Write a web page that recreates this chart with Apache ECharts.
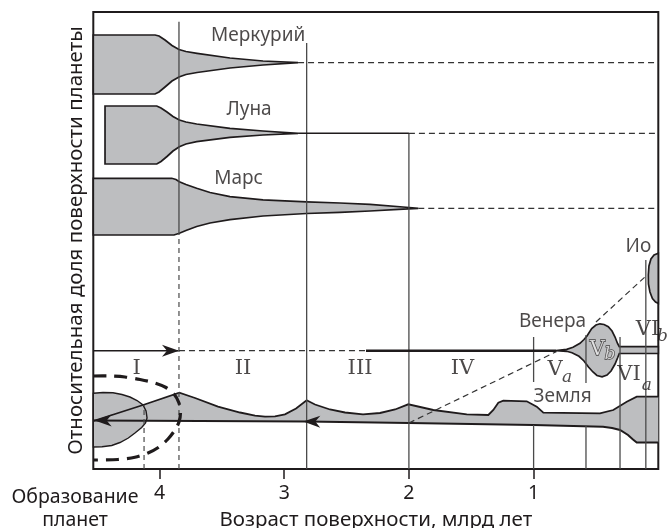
<!DOCTYPE html>
<html><head><meta charset="utf-8">
<script src="https://cdn.jsdelivr.net/npm/echarts@6/dist/echarts.min.js"></script>
<style>html,body{margin:0;padding:0;background:#fff}#c{width:667px;height:528px}</style>
</head><body><div id="c"></div>
<script>
// ---------- axis ----------
const xTickValues = [1, 2, 3, 4];
const ageMax = 4.531, ageMin = 0;
const shareMin = 0, shareMax = 45.7;

// ---------- planet surface-age distributions: [age, share] ----------
const mercuryTop = [[4.531,43.4],[4.036,43.4],[4.004,43.3],[3.956,42.9],[3.9,42.35],[3.844,41.95],[3.788,41.75],[3.699,41.57],[3.435,41.1],[3.17,40.8],[2.889,40.63]];
const mercuryBottom = [[2.889,40.63],[3.17,40.4],[3.435,40.1],[3.699,39.65],[3.788,39.45],[3.844,39.2],[3.9,38.8],[3.956,38.2],[4.004,37.7],[4.036,37.5],[4.531,37.5]];
const lunaTop = [[4.437,36.3],[4.022,36.3],[3.988,36.1],[3.94,35.7],[3.892,35.25],[3.841,34.9],[3.788,34.7],[3.702,34.5],[3.435,34.07],[3.17,33.8],[2.889,33.57]];
const lunaBottom = [[2.889,33.57],[3.17,33.4],[3.435,33.17],[3.702,32.73],[3.788,32.5],[3.841,32.23],[3.892,31.8],[3.94,31.25],[3.988,30.75],[4.022,30.5],[4.437,30.5]];
const marsTop = [[4.531,29.07],[3.902,29.07],[3.868,28.95],[3.841,28.73],[3.788,28.45],[3.702,28.07],[3.595,27.65],[3.435,27.23],[3.17,26.92],[2.82,26.72],[2.553,26.6],[2.312,26.47],[2.047,26.2],[1.925,26.07]];
const marsBottom = [[1.925,26.07],[2.045,25.98],[2.312,25.8],[2.553,25.67],[2.82,25.55],[3.17,25.3],[3.435,24.93],[3.595,24.6],[3.702,24.25],[3.788,23.85],[3.841,23.57],[3.884,23.4],[4.531,23.4]];
const ioShape = [[0,21.57],[0.034,21.4],[0.059,21.0],[0.075,20.3],[0.080,19.4],[0.079,18.5],[0.067,17.7],[0.047,17.05],[0.022,16.7],[0,16.57]];
const venusTop = [[0.82,11.83],[0.735,11.97],[0.684,12.17],[0.628,12.57],[0.596,12.95],[0.572,13.3],[0.534,14.05],[0.5,14.4],[0.468,14.52],[0.435,14.45],[0.401,14.23],[0.371,13.8],[0.347,13.2],[0.327,12.55],[0.313,12.23],[0,12.23]];
const venusBottom = [[0,11.57],[0.313,11.55],[0.327,11.1],[0.347,10.5],[0.379,9.8],[0.411,9.4],[0.451,9.22],[0.492,9.35],[0.524,9.7],[0.56,10.2],[0.596,10.8],[0.636,11.27],[0.692,11.62],[0.735,11.77],[0.82,11.83]];
const earthTop = [[4.531,4.8],[4.132,6.4],[3.841,7.63],[3.715,7.1],[3.531,6.23],[3.354,5.65],[3.234,5.33],[3.154,5.23],[3.074,5.27],[2.994,5.47],[2.905,6.05],[2.82,6.87],[2.753,6.45],[2.633,5.95],[2.512,5.65],[2.368,5.47],[2.232,5.6],[2.111,5.95],[2.005,6.47],[1.804,5.9],[1.536,5.47],[1.363,5.4],[1.323,5.9],[1.283,6.63],[1.243,6.83],[1.055,6.77],[0.975,6.23],[0.922,5.63],[0.468,5.57],[0.361,5.9],[0.253,6.73],[0.173,7.23],[0,7.23]];
const earthBottom = [[0,2.65],[0.173,2.65],[0.203,2.95],[0.243,3.4],[0.307,3.9],[0.371,4.1],[0.443,4.23],[1.0,4.4],[2.0,4.6],[2.82,4.75],[4.531,4.85]];
const formationLens = [[4.531,7.57],[4.453,7.65],[4.373,7.63],[4.301,7.45],[4.237,7.2],[4.18,6.85],[4.132,6.4],[4.108,5.8],[4.1,5.1],[4.112,4.6],[4.143,4.15],[4.197,3.6],[4.25,3.1],[4.317,2.65],[4.383,2.35],[4.461,2.22],[4.531,2.2]];
const formationOval = [[4.531,9.3],[4.397,9.3],[4.277,9.2],[4.156,8.95],[4.036,8.6],[3.948,8.15],[3.884,7.5],[3.844,6.6],[3.832,5.6],[3.844,4.7],[3.876,3.9],[3.932,3.0],[4.004,2.2],[4.092,1.6],[4.197,1.17],[4.333,0.95],[4.531,0.9]];

// ---------- epoch boundaries [age, from, age, to] ----------
const solidVerticals = [[3.844,23.4,3.844,44.73],[2.82,0,2.82,42.6],[2.0,0,2.0,33.57],[1.0,8.7,1.0,13.2],[1.0,0,1.0,4.4],[0.58,8.6,0.58,13.4],[0.58,0,0.58,4.3],[0.307,0,0.307,13.2],[0.1,0,0.1,20.9]];
const dashedVerticals = [[3.844,0,3.844,23.4],[4.124,0,4.124,6.4]];
const dashedLinks = [[2.889,40.63,0,40.63],[2.0,33.57,0,33.57],[1.925,26.07,0,26.07],[3.844,11.83,2.344,11.83],[2.0,4.6,0.815,11.75],[0.5,14.7,0.09,19.4]];
const thinSolid = [[2.889,33.57,2.0,33.57],[4.531,11.83,3.85,11.83]];
const thickSolid = [[2.344,11.83,0.82,11.83]];
// arrow heads: [tipAge, tipShare, tailAge, tailShare]
const arrowHeads = [[4.52,4.85,4.2,4.85],[2.847,4.75,2.6,4.72],[3.844,11.83,4.2,11.83]];

// ---------- labels ----------
const planetNames = ['Меркурий','Луна','Марс','Ио','Венера','Земля'];
const planetX = [3.209,3.282,3.366,0.16,0.848,0.768];
const planetY = [43.35,35.95,29.0,22.2,14.7,7.2];
const epochNames = ['I','II','III','IV','V','V','VI','VI'];
const epochX = [4.183,3.33,2.392,1.570,0.828,0.488,0.235,0.087];
const epochY = [10.05,10.0,10.0,10.0,9.95,11.9,9.45,13.9];
const epochSubs = ['a','b','a','b'];
const subX = [0.732,0.387,0.093,-0.034];
const subY = [9.1,11.4,8.3,13.2];
const outlined = [false,false,false,false,false,true,false,false];

const INK = '#1f1b1c', GRAY = '#bdbec0', VLINE = '#4a4a4a';
const SANS = '"Noto Sans", "Liberation Sans", Arial, sans-serif';
const SERIF = '"DejaVu Serif", "Liberation Serif", serif';

function polySeries(pts, style, z, closed, smooth) {
  return {
    type: 'custom', coordinateSystem: 'cartesian2d', silent: true, z: z,
    data: pts, encode: { x: 0, y: 1 },
    renderItem: function (params, api) {
      if (params.dataIndex !== 0) return null;
      return {
        type: closed ? 'polygon' : 'polyline',
        shape: { points: pts.map(function (p) { return api.coord(p); }), smooth: smooth || 0 },
        style: Object.assign({}, style)
      };
    }
  };
}
function segSeries(segs, style, z) {
  return {
    type: 'custom', coordinateSystem: 'cartesian2d', silent: true, z: z,
    data: segs, encode: { x: [0, 2], y: [1, 3] },
    renderItem: function (params, api) {
      const a = api.coord([api.value(0), api.value(1)]);
      const b = api.coord([api.value(2), api.value(3)]);
      return { type: 'line', shape: { x1: a[0], y1: a[1], x2: b[0], y2: b[1] }, style: Object.assign({}, style) };
    }
  };
}
function arrowSeries(list, z) {
  return {
    type: 'custom', coordinateSystem: 'cartesian2d', silent: true, z: z,
    data: list, encode: { x: [0, 2], y: [1, 3] },
    renderItem: function (params, api) {
      const tip = api.coord([api.value(0), api.value(1)]);
      const tail = api.coord([api.value(2), api.value(3)]);
      const ang = Math.atan2(tip[1] - tail[1], tip[0] - tail[0]);
      const c = Math.cos(ang), s = Math.sin(ang);
      const L = 17, W = 6, N = 12;
      const pt = function (dx, dy) { return [tip[0] + dx * c - dy * s, tip[1] + dx * s + dy * c]; };
      return { type: 'polygon', shape: { points: [pt(0, 0), pt(-L, W), pt(-N, 0), pt(-L, -W)] }, style: { fill: INK } };
    }
  };
}
function labelSeries(names, xs, ys, labelStyle, z, extra) {
  return {
    type: 'scatter', silent: true, z: z, clip: false, symbolSize: 1,
    itemStyle: { color: 'rgba(0,0,0,0)' },
    label: Object.assign({ show: true, position: 'inside', formatter: '{b}' }, labelStyle),
    data: names.map(function (n, i) {
      const d = { name: n, value: [xs[i], ys[i]] };
      if (extra && extra[i]) d.label = extra[i];
      return d;
    })
  };
}

const shapeStyle = { fill: GRAY, stroke: INK, lineWidth: 1.7 };
const outlineFx = { color: '#f2f2f2', textBorderColor: INK, textBorderWidth: 1.3 };

const option = {
  animation: false,
  backgroundColor: '#fff',
  title: {
    text: 'Образование\nпланет', left: 75, top: 486, textAlign: 'center', padding: 0,
    textStyle: { fontSize: 19.5, fontWeight: 'normal', color: INK, lineHeight: 23, fontFamily: SANS }
  },
  grid: {
    left: 93.3, right: 8.7, top: 12, bottom: 59, show: true, borderColor: INK, borderWidth: 2,
    backgroundColor: 'transparent', containLabel: false, outerBoundsMode: 'none'
  },
  xAxis: {
    type: 'value', min: ageMin, max: ageMax, inverse: true,
    name: 'Возраст поверхности, млрд лет', nameLocation: 'middle', nameGap: 41,
    nameTextStyle: { fontSize: 20.5, color: INK, fontFamily: SANS },
    axisLine: { show: false },
    axisTick: { show: true, length: 10, customValues: xTickValues, lineStyle: { color: INK, width: 1.5 } },
    axisLabel: { customValues: xTickValues, fontSize: 19.5, color: INK, margin: 14, fontFamily: SANS },
    splitLine: { show: false }
  },
  yAxis: {
    type: 'value', min: shareMin, max: shareMax,
    name: 'Относительная доля поверхности планеты', nameLocation: 'middle', nameGap: 7, nameRotate: 90,
    nameTextStyle: { fontSize: 20.5, color: INK, fontFamily: SANS },
    axisLine: { show: false }, axisTick: { show: false }, axisLabel: { show: false }, splitLine: { show: false }
  },
  series: [
    polySeries(mercuryTop.concat(mercuryBottom), shapeStyle, 2, true),
    polySeries(lunaTop.concat(lunaBottom), shapeStyle, 2, true),
    polySeries(marsTop.concat(marsBottom), shapeStyle, 2, true),
    polySeries(ioShape, shapeStyle, 2, true),
    polySeries(venusTop.concat(venusBottom), shapeStyle, 2, true),
    polySeries(earthTop.concat(earthBottom), { fill: GRAY }, 2, true),
    polySeries(formationLens, { fill: GRAY, stroke: INK, lineWidth: 1.4 }, 2, true),
    polySeries(earthTop, { fill: 'none', stroke: INK, lineWidth: 1.8 }, 3, false),
    polySeries(earthBottom, { fill: 'none', stroke: INK, lineWidth: 2 }, 3, false),
    polySeries(formationOval, { fill: 'none', stroke: INK, lineWidth: 3.2, lineDash: [13, 8] }, 4, false, 0.3),
    segSeries(solidVerticals, { stroke: VLINE, lineWidth: 1.3 }, 3),
    segSeries(dashedVerticals, { stroke: VLINE, lineWidth: 1.2, lineDash: [5, 4] }, 3),
    segSeries(dashedLinks, { stroke: '#333', lineWidth: 1.2, lineDash: [6, 4] }, 3),
    segSeries(thinSolid, { stroke: INK, lineWidth: 1.6 }, 3),
    segSeries(thickSolid, { stroke: INK, lineWidth: 2.6 }, 3),
    arrowSeries(arrowHeads, 5),
    labelSeries(planetNames, planetX, planetY, { fontSize: 19, color: INK, fontFamily: SANS }, 6),
    labelSeries(epochNames, epochX, epochY, { fontSize: 21, color: INK, fontFamily: SERIF }, 6,
      outlined.map(function (o) { return o ? outlineFx : null; })),
    labelSeries(epochSubs, subX, subY, { fontSize: 17, color: INK, fontFamily: SERIF, fontStyle: 'italic' }, 6,
      [null, outlineFx, null, null])
  ]
};
echarts.init(document.getElementById('c'), null, { renderer: 'canvas' }).setOption(option);
</script></body></html>
